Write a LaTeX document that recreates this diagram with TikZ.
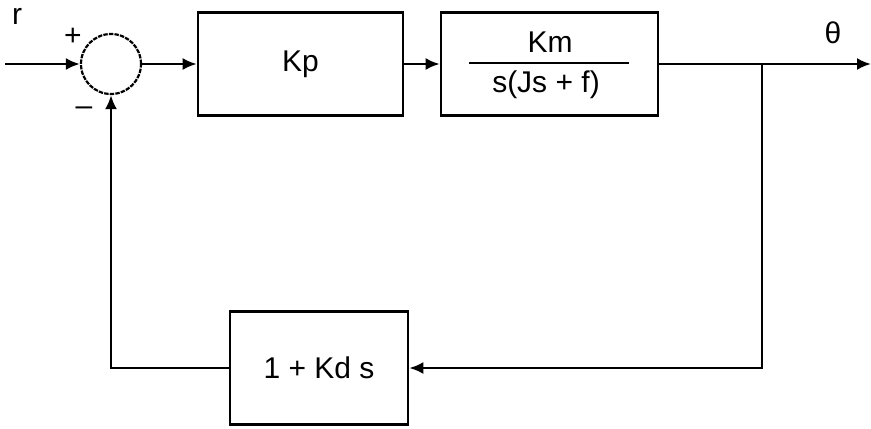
\documentclass[tikz,border=0pt]{standalone}
\usepackage{fontspec}
\setmainfont{Liberation Sans}
\usetikzlibrary{arrows.meta,calc,positioning}
\tikzset{box/.style={
            draw,
            line width=1.3pt,
            inner sep=0pt,
            minimum width=102.5pt,
            minimum height=51.5pt,
            font=\fontsize{15}{18}\selectfont
        },
        sumcircle/.style={
            draw,
            circle,
            line width=1.1pt,
            dash pattern=on 2.2pt off 0.6pt,
            inner sep=0pt,
            minimum size=30pt
        },
        txt/.style={
            inner sep=0pt,
            font=\fontsize{15}{18}\selectfont
        },
        signal/.style={
            line width=1.3pt,
            -{Latex[length=7pt,width=6pt]}
        },
        wire/.style={
            line width=1.3pt
        }
    }

\begin{document}
\begin{tikzpicture}[x=0.5pt,y=-0.5pt]
        \useasboundingbox (0,0) rectangle (871,428);
        % forward path
        \coordinate (in) at (5,64);
        \node[sumcircle] (sum) at (111,64) {};
        \node[box] (kp) at (300.5,64) {Kp};
        \node[box,minimum width=108.5pt] (plant) at (549.5,64) {};
        \node[txt] (km) at (550,42) {Km};
        \draw[wire] (469,63) -- (629,63);
        \node[txt] (den) at (546,85) {s(Js + f)};
        \coordinate (out) at (871,64);
        \coordinate (branch) at (762,64);
        % feedback path
        \node[box,minimum width=89pt,minimum height=56.5pt] (fb) at (319,368) {1 + Kd s};
        % labels
        \node[txt] (r) at (17,16) {r};
        \node[txt] (plus) at (73,37) {+};
        \node[txt] (minus) at (84,111) {\textendash};
        \node[txt] (theta) at (833,33) {θ};
        % connectors
        \draw[signal] (in) -- (sum.west);
        \draw[signal] (sum) -- (kp);
        \draw[signal] (kp) -- (plant);
        \draw[signal] (plant.east) -- (out);
        \draw[signal] (branch) |- (fb.east);
        \draw[signal] (fb.west) -| (sum.south);
\end{tikzpicture}
\end{document}
